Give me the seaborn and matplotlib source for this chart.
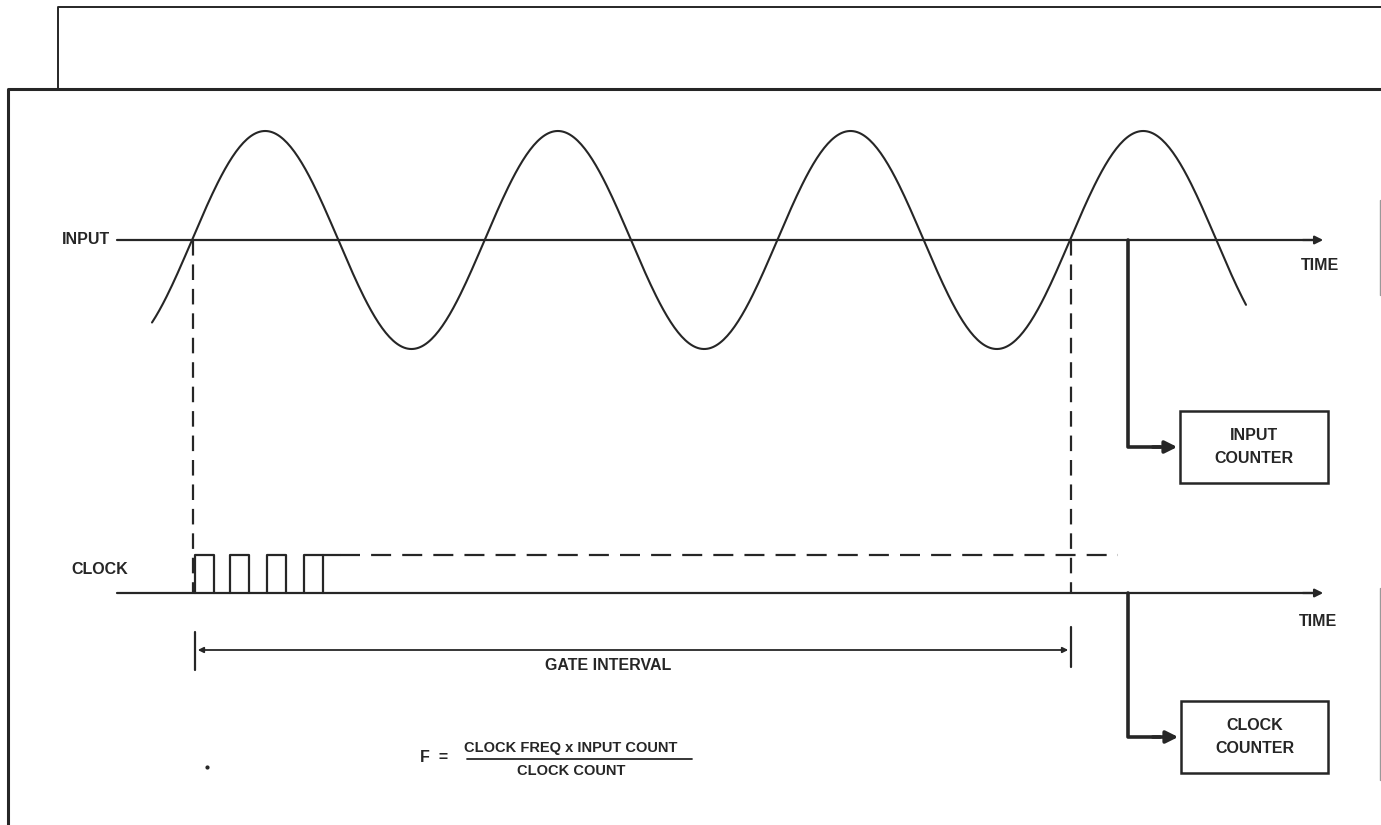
import numpy as np
import seaborn as sns
import matplotlib.pyplot as plt
from matplotlib.patches import Rectangle

# values (pixel units, y grows downward)
wave_baseline = 240
wave_amplitude = 109
wave_upcross = [192, 484, 776, 1070]      # x where the input rises through the baseline
wave_start, wave_end = 152, 1246
clock_baseline = 593
clock_top = 555
pulse_starts = [195, 230, 267, 304]
pulse_width = 19
gate_start, gate_end = 195, 1071
gate_y = 650
input_box = (1180, 411, 148, 72)
clock_box = (1181, 701, 147, 72)
labels_left = ["INPUT", "CLOCK"]
counter_labels = ["INPUT\nCOUNTER", "CLOCK\nCOUNTER"]

sns.set_theme(style="white")
plt.rcParams['font.family'] = ['Liberation Sans', 'DejaVu Sans']
ink = "#262626"

fig = plt.figure(figsize=(13.81, 8.25), dpi=100)
ax = fig.add_axes([0, 0, 1, 1])
ax.set_xlim(0, 1381)
ax.set_ylim(825, 0)
ax.axis("off")

# frames
ax.plot([58, 58, 1381], [89, 7, 7], color=ink, lw=1.4)
ax.plot([8, 8, 1381], [825, 89, 89], color=ink, lw=2.2)
ax.plot([1380, 1380], [200, 295], color="#999999", lw=1)
ax.plot([1380, 1380], [588, 780], color="#999999", lw=1)

# input sine wave
period = np.mean(np.diff(wave_upcross))
xs = np.linspace(wave_start, wave_end, 600)
ys = wave_baseline - wave_amplitude * np.sin(2 * np.pi * (xs - wave_upcross[0]) / period)
sns.lineplot(x=xs, y=ys, ax=ax, sort=False, color=ink, lw=1.5)

# time axes
for yb in [wave_baseline, clock_baseline]:
    ax.plot([117, 1318], [yb, yb], color=ink, lw=1.6)
    ax.annotate("", xy=(1326, yb), xytext=(1300, yb),
                arrowprops=dict(arrowstyle="-|>", color=ink, lw=1.6, mutation_scale=12))

# dashed verticals
for xv in [gate_start - 2, gate_end]:
    ax.plot([xv, xv], [wave_baseline, clock_baseline], color=ink, lw=1.6,
            linestyle=(0, (7, 4)))

# clock pulses
for s in pulse_starts:
    ax.plot([s, s, s + pulse_width, s + pulse_width],
            [clock_baseline, clock_top, clock_top, clock_baseline], color=ink, lw=1.6)
ax.plot([pulse_starts[-1] + pulse_width, 340], [clock_top, clock_top], color=ink, lw=1.6)
ax.plot([340, 1118], [clock_top, clock_top], color=ink, lw=1.6, linestyle=(0, (9, 5)))

# gate interval
ax.annotate("", xy=(gate_start, gate_y), xytext=(gate_end, gate_y),
            arrowprops=dict(arrowstyle="<|-|>", color=ink, lw=1.3, mutation_scale=8))
ax.plot([gate_start, gate_start], [632, 670], color=ink, lw=1.6)
ax.plot([gate_end, gate_end], [627, 667], color=ink, lw=1.6)

# counter branches
for (bx, by, bw, bh), yb in [(input_box, wave_baseline), (clock_box, clock_baseline)]:
    cy = by + bh / 2
    ax.plot([1128, 1128, 1160], [yb, cy, cy], color=ink, lw=2.6)
    ax.annotate("", xy=(bx, cy), xytext=(1150, cy),
                arrowprops=dict(arrowstyle="-|>", color=ink, lw=2.6, mutation_scale=18))
    ax.add_patch(Rectangle((bx, by), bw, bh, fill=False, edgecolor=ink, lw=1.8))

tkw = dict(color=ink, fontsize=11.5, fontweight="bold")
ax.text(110, wave_baseline, labels_left[0], ha="right", va="center", **tkw)
ax.text(100, 569, labels_left[1], ha="center", va="center", **tkw)
ax.text(1320, 266, "TIME", ha="center", va="center", **tkw)
ax.text(1318, 621, "TIME", ha="center", va="center", **tkw)
ax.text(608, 666, "GATE INTERVAL", ha="center", va="center", **tkw)
for (bx, by, bw, bh), lab in zip([input_box, clock_box], counter_labels):
    ax.text(bx + bw / 2, by + bh / 2, lab, ha="center", va="center",
            linespacing=1.6, **tkw)

# formula
fkw = dict(color=ink, fontsize=10.5, fontweight="bold")
ax.text(434, 757, "F  =", ha="center", va="center", **tkw)
ax.text(571, 748, "CLOCK FREQ x INPUT COUNT", ha="center", va="center", **fkw)
ax.plot([467, 692], [759, 759], color=ink, lw=1.3)
ax.text(571, 771, "CLOCK COUNT", ha="center", va="center", **fkw)
ax.plot([207], [767], marker="o", ms=2, color=ink)

fig.savefig("out.png", dpi=100)
